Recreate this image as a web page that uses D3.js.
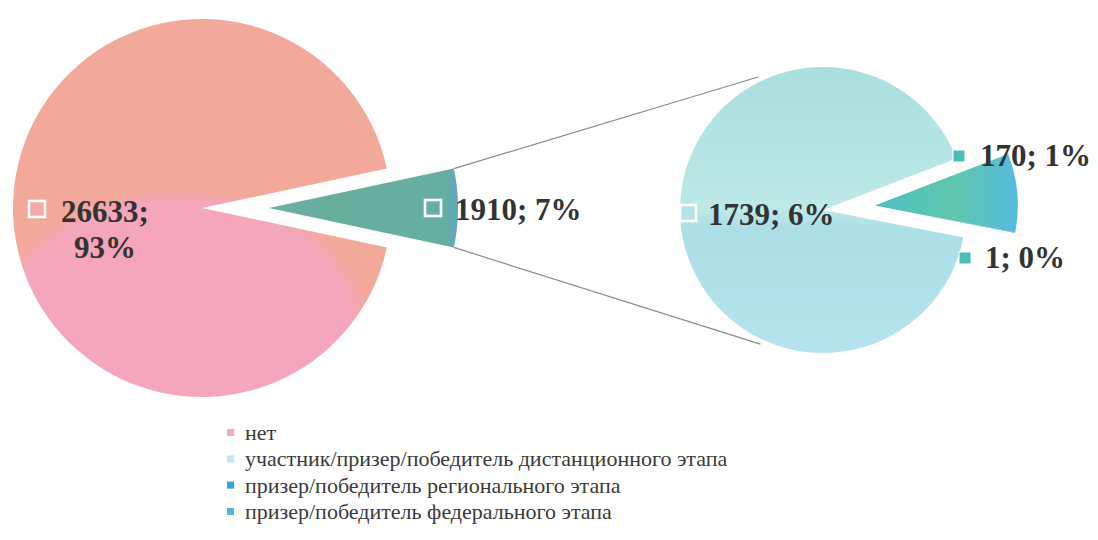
<!DOCTYPE html>
<html>
<head>
<meta charset="utf-8">
<script src="https://cdn.jsdelivr.net/npm/d3@7"></script>
<style>
  body { margin: 0; background: #fff; }
</style>
</head>
<body>
<div class="chart"></div>
<script>
// DATA ------------------------------------
const categories = [
    "нет",
    "участник/призер/победитель дистанционного этапа",
    "призер/победитель регионального этапа",
    "призер/победитель федерального этапа"
];
const mainValues = [1910, 26633];          // [others group, "нет"]
const secondValues = [170, 1, 1739];        // regional, federal, distance

const total = d3.sum(mainValues);
const pct = v => Math.round(v / total * 100) + "%";

const FONT = '"Liberation Serif"';

// CHART INIT ------------------------------
const width = 1098, height = 540;

const svg = d3.select(".chart").append("svg")
    .attr("width", width)
    .attr("height", height);

const defs = svg.append("defs");

// main slice: salmon around a pink core
const gMain = defs.append("radialGradient")
    .attr("id", "g-net")
    .attr("gradientUnits", "userSpaceOnUse")
    .attr("cx", 0).attr("cy", 0).attr("r", 1)
    .attr("gradientTransform", "translate(-22,122) scale(191,142)");
gMain.append("stop").attr("offset", 0).attr("stop-color", "#f5a5bd");
gMain.append("stop").attr("offset", 0.9).attr("stop-color", "#f4a6bb");
gMain.append("stop").attr("offset", 1).attr("stop-color", "#f3a99a");

const gOther = defs.append("linearGradient").attr("id", "g-other");
gOther.append("stop").attr("offset", 0).attr("stop-color", "#6aae9c");
gOther.append("stop").attr("offset", 0.93).attr("stop-color", "#66ae9f");
gOther.append("stop").attr("offset", 1).attr("stop-color", "#5fa6c4");

const gDist = defs.append("linearGradient").attr("id", "g-dist")
    .attr("x1", 0).attr("y1", 0).attr("x2", 0).attr("y2", 1);
gDist.append("stop").attr("offset", 0).attr("stop-color", "#a8dfde");
gDist.append("stop").attr("offset", 0.5).attr("stop-color", "#bde9e7");
gDist.append("stop").attr("offset", 0.56).attr("stop-color", "#abdee6");
gDist.append("stop").attr("offset", 1).attr("stop-color", "#b6e4ee");

const gReg = defs.append("linearGradient").attr("id", "g-reg");
gReg.append("stop").attr("offset", 0).attr("stop-color", "#4fbfc4");
gReg.append("stop").attr("offset", 0.55).attr("stop-color", "#5ec7ab");
gReg.append("stop").attr("offset", 1).attr("stop-color", "#55bbe0");

const legendColors = ["#f5a8c0", "#c2e8f2", "#2ea6d6", "#4cb5e3"];

// LEFT PIE --------------------------------
const c1 = {x: 202, y: 208}, r1 = 189, explode1 = 67;
const a1 = 2 * Math.PI * mainValues[0] / total;

const pie1 = d3.pie().sort(null)
    .startAngle(Math.PI / 2 - a1 / 2)
    .endAngle(Math.PI / 2 - a1 / 2 + 2 * Math.PI);
const arc1 = d3.arc().innerRadius(0).outerRadius(r1);
const arcs1 = pie1(mainValues);

const left = svg.append("g").attr("transform", `translate(${c1.x},${c1.y})`);
left.selectAll("path")
    .data(arcs1)
    .join("path")
    .attr("transform", (d, i) => {
        if (i !== 0) return null;
        const m = (d.startAngle + d.endAngle) / 2;
        return `translate(${Math.sin(m) * explode1},${-Math.cos(m) * explode1})`;
    })
    .attr("d", arc1)
    .attr("fill", (d, i) => i === 0 ? "url(#g-other)" : "url(#g-net)");

// RIGHT PIE -------------------------------
const c2 = {x: 823, y: 210}, r2 = 143, explode2 = 52;
const secTotal = d3.sum(secondValues);
const a2 = 2 * Math.PI * (secondValues[0] + secondValues[1]) / secTotal;
const mid2 = 85 * Math.PI / 180;

const pie2 = d3.pie().sort(null)
    .startAngle(mid2 - a2 / 2)
    .endAngle(mid2 - a2 / 2 + 2 * Math.PI);
const arc2 = d3.arc().innerRadius(0).outerRadius(r2);
const arcs2 = pie2(secondValues);
const fills2 = ["url(#g-reg)", "#4cb5e3", "url(#g-dist)"];

const right = svg.append("g").attr("transform", `translate(${c2.x},${c2.y})`);
right.selectAll("path")
    .data(arcs2)
    .join("path")
    .attr("transform", (d, i) => i === 2 ? null :
        `translate(${Math.sin(mid2) * explode2},${-Math.cos(mid2) * explode2})`)
    .attr("d", arc2)
    .attr("fill", (d, i) => fills2[i]);

// CONNECTOR LINES -------------------------
const m1 = Math.PI / 2;
const apex = [c1.x + explode1, c1.y];
const corner = a => [apex[0] + Math.sin(a) * r1, apex[1] - Math.cos(a) * r1];
const onRight = (a, r) => [c2.x + Math.sin(a) * r, c2.y - Math.cos(a) * r];
const deg = Math.PI / 180;
const links = [
    [corner(m1 - a1 / 2), onRight(-26 * deg, r2 + 5)],
    [corner(m1 + a1 / 2), onRight(205 * deg, r2 + 5)]
];
svg.selectAll(".link")
    .data(links)
    .join("line")
    .attr("class", "link")
    .attr("x1", d => d[0][0]).attr("y1", d => d[0][1])
    .attr("x2", d => d[1][0]).attr("y2", d => d[1][1])
    .attr("stroke", "#8a8a8a")
    .attr("stroke-width", 1.2);

// DATA LABELS -----------------------------
const labels = [
    {lines: [mainValues[1] + ";", pct(mainValues[1])], x: 105, y: 222, anchor: "middle",
     key: {x: 29, y: 201, s: 16, fill: "#f3aaa4", stroke: 2.6}},
    {lines: [mainValues[0] + "; " + pct(mainValues[0])], x: 455, y: 220, anchor: "start",
     key: {x: 425, y: 200, s: 16, fill: "#66ae9f", stroke: 2.6}},
    {lines: [secondValues[2] + "; " + pct(secondValues[2])], x: 708, y: 225, anchor: "start",
     key: {x: 680, y: 205, s: 16, fill: "#b4e4e6", stroke: 2.6}},
    {lines: [secondValues[0] + "; " + pct(secondValues[0])], x: 980, y: 166, anchor: "start",
     key: {x: 953, y: 150, s: 12, fill: "#4dbdb8", stroke: 1}},
    {lines: [secondValues[1] + "; " + pct(secondValues[1])], x: 985, y: 268, anchor: "start",
     key: {x: 959, y: 252, s: 12, fill: "#4dbdb8", stroke: 1}}
];

const lab = svg.selectAll(".label")
    .data(labels)
    .join("g")
    .attr("class", "label");
lab.append("rect")
    .attr("x", d => d.key.x).attr("y", d => d.key.y)
    .attr("width", d => d.key.s).attr("height", d => d.key.s)
    .attr("fill", d => d.key.fill)
    .attr("stroke", "#fff")
    .attr("stroke-width", d => d.key.stroke);
lab.append("text")
    .attr("x", d => d.x).attr("y", d => d.y)
    .attr("text-anchor", d => d.anchor)
    .style("font-family", FONT)
    .attr("font-size", 31)
    .attr("font-weight", "bold")
    .attr("fill", "#333")
    .selectAll("tspan")
    .data(d => d.lines.map(t => ({t, x: d.x})))
    .join("tspan")
    .attr("x", d => d.x)
    .attr("dy", (d, i) => i ? 36 : 0)
    .text(d => d.t);

// LEGEND ----------------------------------
const legend = svg.append("g").attr("transform", "translate(227,440)");
const rows = legend.selectAll("g")
    .data(categories)
    .join("g")
    .attr("transform", (d, i) => `translate(0,${i * 26.3})`);
rows.append("rect")
    .attr("x", 0).attr("y", -11)
    .attr("width", 7).attr("height", 7)
    .attr("fill", (d, i) => legendColors[i]);
rows.append("text")
    .attr("x", 18).attr("y", 0)
    .style("font-family", FONT)
    .attr("font-size", 22)
    .attr("fill", "#3a3a3a")
    .text(d => d);
</script>
</body>
</html>
